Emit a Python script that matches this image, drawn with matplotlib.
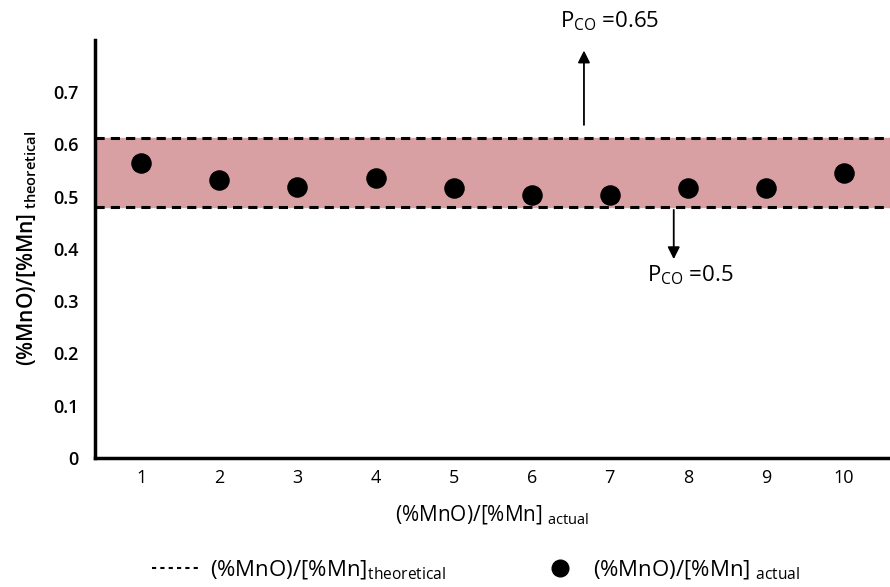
import matplotlib
matplotlib.use("Agg")
import matplotlib.pyplot as plt
from matplotlib.lines import Line2D

plt.rcParams['font.family'] = ['Open Sans', 'DejaVu Sans']
plt.rcParams['mathtext.default'] = 'regular'

# data
samples = [1, 2, 3, 4, 5, 6, 7, 8, 9, 10]
ratio_actual = [0.564, 0.532, 0.518, 0.535, 0.516, 0.503, 0.503, 0.516, 0.516, 0.545]
band_upper = 0.613   # pCO = 0.65
band_lower = 0.48    # pCO = 0.5
y_ticks = [0, 0.1, 0.2, 0.3, 0.4, 0.5, 0.6, 0.7]

fig = plt.figure(figsize=(8.9, 5.87), dpi=100)
ax = fig.add_axes([0.107, 0.22, 0.893, 0.712])

ax.axhspan(band_lower, band_upper, color='#d9a0a4', zorder=1)
ax.axhline(band_upper, color='black', ls=(0, (3, 2)), lw=2.2, zorder=2)
ax.axhline(band_lower, color='black', ls=(0, (3, 2)), lw=2.2, zorder=2)
ax.scatter(samples, ratio_actual, s=190, color='black', zorder=3)

ax.set_xlim(0.41, 10.59)
ax.set_ylim(0, 0.8)
ax.set_xticks(samples)
ax.set_yticks(y_ticks)
ax.set_yticklabels([f'{v:g}' for v in y_ticks], fontweight='semibold')
ax.tick_params(length=0, labelsize=13)
ax.tick_params(axis='y', pad=12)
ax.tick_params(axis='x', pad=8)

for side in ['top', 'right']:
    ax.spines[side].set_visible(False)
ax.spines['left'].set_linewidth(2.5)
ax.spines['bottom'].set_linewidth(2.5)

ax.set_xlabel('(%MnO)/[%Mn]$_{\\ actual}$', fontsize=15, labelpad=12)
ax.set_ylabel('(%MnO)/[%Mn]$_{\\ theoretical}$', fontsize=15, labelpad=10,
              fontweight='semibold')

# pCO annotations
ax.annotate('', xy=(6.67, 0.785), xytext=(6.67, 0.632),
            arrowprops=dict(arrowstyle='-|>', color='black', lw=1.3,
                            mutation_scale=18))
ax.text(7.0, 0.835, 'P$_{CO}$ =0.65', fontsize=16, ha='center', va='center',
        clip_on=False)
ax.annotate('', xy=(7.82, 0.375), xytext=(7.82, 0.48),
            arrowprops=dict(arrowstyle='-|>', color='black', lw=1.3,
                            mutation_scale=18))
ax.text(8.03, 0.35, 'P$_{CO}$ =0.5', fontsize=16, ha='center', va='center')

handles = [
    Line2D([], [], color='black', ls=(0, (2, 2)), lw=1.5),
    Line2D([], [], color='black', ls='none', marker='o', markersize=12),
]
labels = ['(%MnO)/[%Mn]$_{theoretical}$', '(%MnO)/[%Mn]$_{\\ actual}$']
fig.legend(handles, labels, loc='lower center', bbox_to_anchor=(0.535, -0.025),
           ncol=2, frameon=False, fontsize=16, columnspacing=4,
           handlelength=2.2, handletextpad=0.4)

fig.savefig('out.png', dpi=100)
